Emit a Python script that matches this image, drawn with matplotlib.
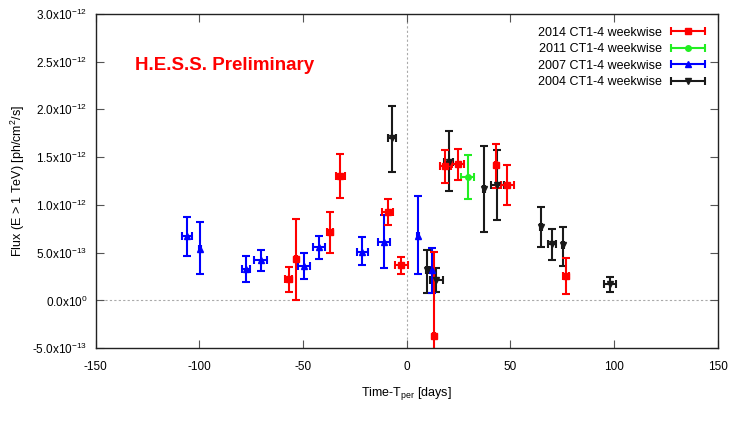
import numpy as np
import matplotlib.pyplot as plt
from matplotlib.ticker import FuncFormatter, MultipleLocator
from matplotlib.legend_handler import HandlerErrorbar
from matplotlib.container import ErrorbarContainer

plt.rcParams['font.family'] = ['Liberation Sans', 'DejaVu Sans']
plt.rcParams['mathtext.default'] = 'regular'
plt.rcParams['axes.unicode_minus'] = False

# flux values in units of 1e-12 ph/cm^2/s, times in days from periastron
t_2014 = [-57.0, -53.5, -37.1, -32.0, -9.2, -2.6, 13.2, 18.6, 24.7, 43.2, 48.5, 76.8]
dt_2014 = [1.5, 0.5, 1.5, 2.0, 2.5, 3.0, 0.5, 2.5, 3.0, 0.5, 3.0, 1.5]
f_2014 = [0.224, 0.437, 0.713, 1.304, 0.929, 0.367, -0.370, 1.404, 1.429, 1.415, 1.205, 0.252]
lo_2014 = [0.091, 0.007, 0.493, 1.076, 0.790, 0.280, -0.600, 1.230, 1.257, 1.180, 0.996, 0.067]
hi_2014 = [0.353, 0.856, 0.926, 1.534, 1.058, 0.455, 0.503, 1.572, 1.590, 1.635, 1.415, 0.440]

t_2011 = [29.4]
dt_2011 = [3.0]
f_2011 = [1.293]
lo_2011 = [1.063]
hi_2011 = [1.524]

t_2007 = [-105.9, -99.8, -77.6, -70.5, -49.5, -42.4, -21.4, -10.9, 5.5, 12.2]
dt_2007 = [2.5, 0.5, 2.0, 3.0, 3.0, 3.0, 2.5, 3.0, 0.5, 0.5]
f_2007 = [0.671, 0.542, 0.329, 0.423, 0.364, 0.556, 0.510, 0.612, 0.678, 0.314]
lo_2007 = [0.468, 0.272, 0.193, 0.308, 0.224, 0.437, 0.374, 0.340, 0.272, 0.081]
hi_2007 = [0.874, 0.822, 0.468, 0.531, 0.497, 0.671, 0.660, 0.898, 1.090, 0.549]

t_2004 = [-7.1, 10.0, 14.3, 20.2, 37.4, 43.7, 64.6, 70.0, 75.2, 98.0]
dt_2004 = [2.0, 0.5, 3.0, 2.0, 0.5, 3.0, 0.5, 2.0, 0.5, 3.0]
f_2004 = [1.698, 0.314, 0.210, 1.453, 1.163, 1.205, 0.769, 0.591, 0.577, 0.168]
lo_2004 = [1.349, 0.081, 0.088, 1.142, 0.717, 0.843, 0.555, 0.426, 0.356, 0.088]
hi_2004 = [2.040, 0.531, 0.335, 1.771, 1.618, 1.576, 0.982, 0.748, 0.772, 0.248]

series = [
    ('2014 CT1-4 weekwise', t_2014, dt_2014, f_2014, lo_2014, hi_2014, '#ff0000', 's'),
    ('2011 CT1-4 weekwise', t_2011, dt_2011, f_2011, lo_2011, hi_2011, '#22ee22', 'o'),
    ('2007 CT1-4 weekwise', t_2007, dt_2007, f_2007, lo_2007, hi_2007, '#0000ff', '^'),
    ('2004 CT1-4 weekwise', t_2004, dt_2004, f_2004, lo_2004, hi_2004, '#1a1a1a', 'v'),
]

fig = plt.figure(figsize=(7.47, 4.21), dpi=100)
ax = fig.add_axes([0.128, 0.173, 0.833, 0.794])

ax.axhline(0, color='#aaaaaa', ls=(0, (2, 2)), lw=0.8, zorder=0)
ax.axvline(0, color='#aaaaaa', ls=(0, (2, 2)), lw=0.8, zorder=0)

for label, t, dt, f, lo, hi, col, mk in reversed(series):
    f = np.array(f)
    yerr = [f - np.array(lo), np.array(hi) - f]
    ax.errorbar(t, f, xerr=dt, yerr=yerr, fmt=mk, color=col, ms=4,
                elinewidth=1.5, capsize=3, capthick=1.5)

# legend proxies (gnuplot style: horizontal bar with end caps)
handles = []
for label, t, dt, f, lo, hi, col, mk in series:
    h = ax.errorbar([np.nan], [np.nan], xerr=[1], fmt=mk, color=col, ms=4,
                    elinewidth=1.5, capsize=3, capthick=1.5, label=label)
    handles.append(h)
leg = ax.legend(handles=handles, loc='upper right', frameon=False, markerfirst=False,
                fontsize=9, handlelength=3.0, labelspacing=0.35,
                bbox_to_anchor=(1.0, 0.995), handletextpad=0.6,
                handler_map={ErrorbarContainer: HandlerErrorbar(xerr_size=1.35)})

ax.text(-131, 2.46, 'H.E.S.S. Preliminary', color='#ff0000', fontsize=13.5,
        fontweight='bold', va='center', ha='left')

ax.set_xlim(-150, 150)
ax.set_ylim(-0.5, 3.0)
ax.xaxis.set_major_locator(MultipleLocator(50))
ax.yaxis.set_major_locator(MultipleLocator(0.5))


def fmt_flux(v, pos):
    if abs(v) < 1e-9:
        return '0.0x10$^{0}$'
    m, e = f'{v * 1e-12:.1e}'.split('e')
    return f'{m}x10$^{{{int(e)}}}$'


ax.yaxis.set_major_formatter(FuncFormatter(fmt_flux))
ax.tick_params(direction='in', top=True, right=True, length=6, width=0.8,
               color='#555555', labelsize=8.5)
ax.tick_params(axis='y', pad=6)
ax.tick_params(axis='x', pad=9)
for s in ax.spines.values():
    s.set_linewidth(1.0)
    s.set_color('#222222')

ax.set_xlabel('Time-T$_{per}$ [days]', fontsize=9, labelpad=9)
ax.set_ylabel('Flux (E > 1 TeV) [ph/cm$^2$/s]', fontsize=9, labelpad=4)

fig.savefig('out.png', dpi=100)
